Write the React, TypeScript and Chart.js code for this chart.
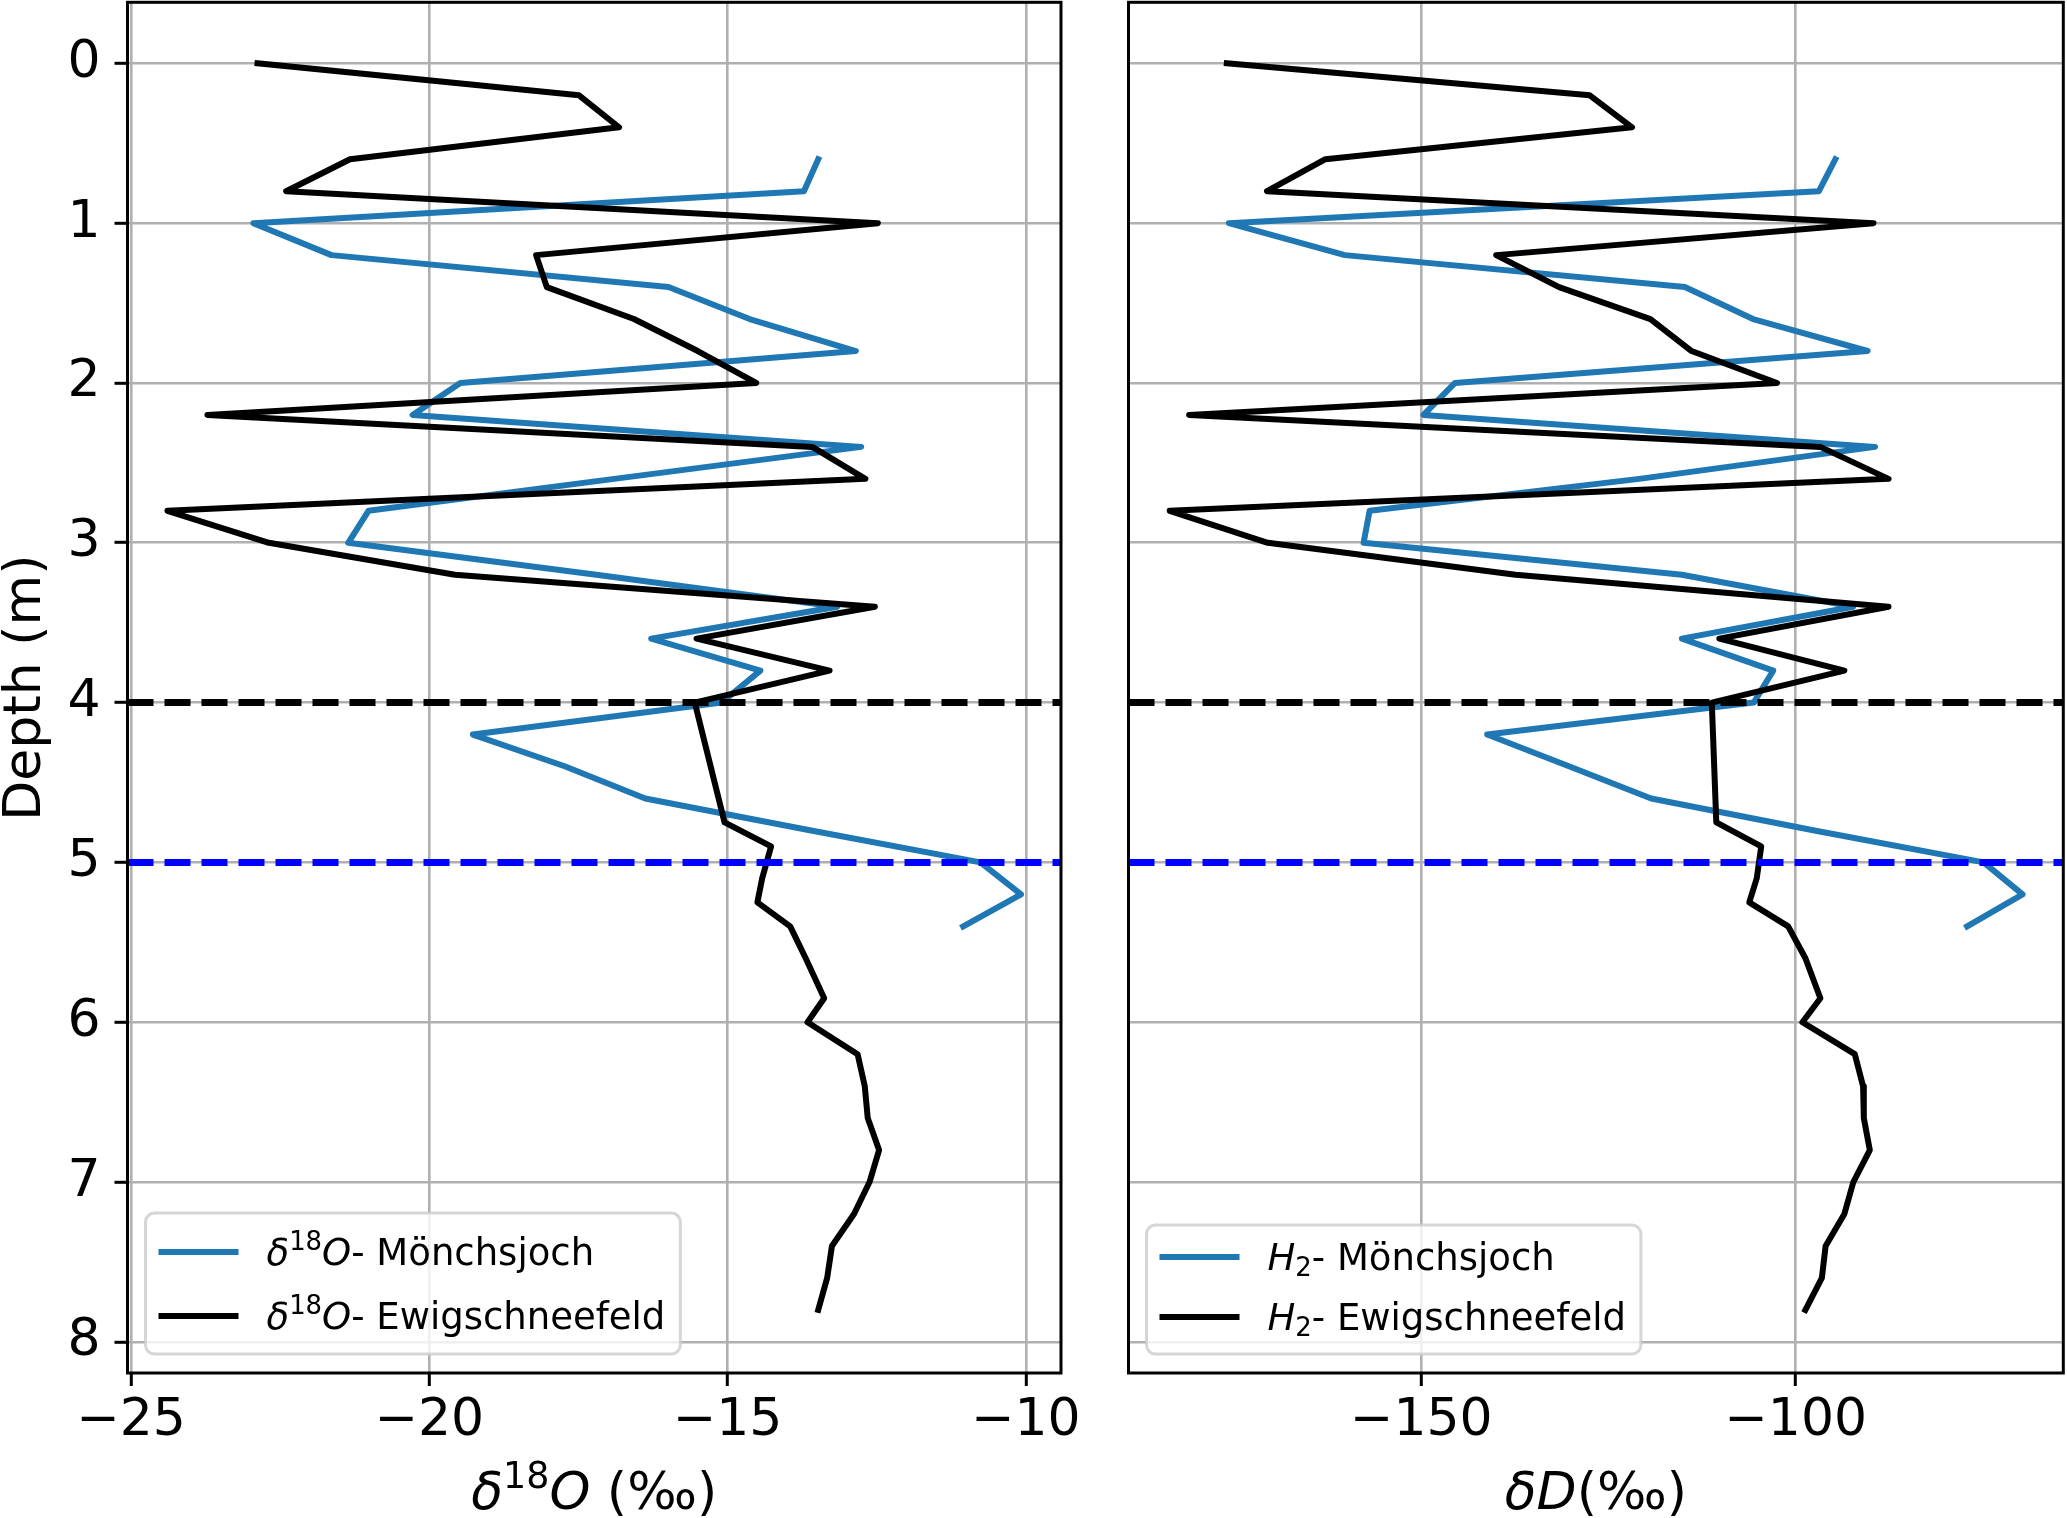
import { useEffect, useRef } from "react"
import { Chart, registerables } from "chart.js"

Chart.register(...registerables)

// depth (m) of the samples
const depthMonch = [0.6, 0.8, 1.0, 1.2, 1.4, 1.6, 1.8, 2.0, 2.2, 2.4, 2.6, 2.8, 3.0, 3.2, 3.4, 3.6, 3.8, 4.0, 4.2, 4.4, 4.6, 4.8, 5.0, 5.2, 5.4]
const depthEwig = [
  0, 0.2, 0.4, 0.6, 0.8, 1.0, 1.2, 1.4, 1.6, 1.8, 2.0, 2.2, 2.4, 2.6, 2.8, 3.0, 3.2, 3.4, 3.6, 3.8, 4.0,
  4.75, 4.9, 5.1, 5.25, 5.4, 5.6, 5.85, 6.0, 6.2, 6.4, 6.6, 6.8, 7.0, 7.2, 7.4, 7.6, 7.8,
]

// delta 18O (permil)
const d18oMonch = [
  -13.48, -13.72, -22.95, -21.64, -15.99, -14.63, -12.85, -19.48, -20.28, -12.76, -16.9, -21.02, -21.36,
  -17.2, -13.16, -16.28, -14.45, -15.1, -19.27, -17.72, -16.38, -13.6, -10.76, -10.08, -11.05,
]
const d18oEwig = [
  -22.88, -17.49, -16.82, -21.33, -22.4, -12.48, -18.21, -18.03, -16.57, -15.5, -14.52, -23.72, -13.58,
  -12.69, -24.39, -22.69, -19.57, -12.53, -15.52, -13.29, -15.55,
  -15.05, -14.27, -14.42, -14.5, -13.95, -13.69, -13.38, -13.66, -12.82, -12.7, -12.65, -12.46, -12.62,
  -12.88, -13.25, -13.33, -13.48,
]

// delta D (permil)
const ddMonch = [
  -94.7, -96.9, -175.7, -160.2, -114.8, -105.7, -90.4, -145.5, -149.7, -89.4, -120.9, -156.9, -157.7,
  -115.2, -92.3, -115.2, -103.0, -105.6, -141.2, -130.2, -119.3, -97.5, -74.9, -69.7, -77.1,
]
const ddEwig = [
  -175.97, -127.5, -121.85, -162.8, -170.6, -89.6, -140.0, -131.6, -119.4, -113.9, -102.5, -181.0, -96.7,
  -87.6, -183.6, -170.5, -137.4, -87.6, -110.2, -93.5, -111.2,
  -110.6, -104.6, -105.2, -106.2, -101.0, -98.7, -96.7, -99.1, -92.1, -91.0, -90.9, -90.1, -92.3,
  -93.5, -96.0, -96.5, -98.7,
]

const depthTicks = [0, 1, 2, 3, 4, 5, 6, 7, 8]
const d18oTicks = [-25, -20, -15, -10]
const ddTicks = [-150, -100]

// dashed reference depths
const refDepths = [4, 5]
const refColors = ["#000000", "#0000ff"]

const H = 1518
const FAMILY = "'DejaVu Sans', sans-serif"
const GRID = "#b0b0b0"
const BLUE = "#1f77b4"
const LW = 6

type Run = { t: string; it?: boolean; sup?: boolean; sub?: boolean }

interface Panel {
  left: number
  width: number
  padRight: number
  yWidth: number
  showY: boolean
  xMin: number
  xMax: number
  xTicks: number[]
  monch: number[]
  ewig: number[]
  xTitle: Run[]
  legend: Run[][]
  legendH: number
  rowOffsets: number[]
}

const runFont = (r: Run, size: number) =>
  `${r.it ? "italic " : ""}${r.sup || r.sub ? size * 0.7 : size}px ${FAMILY}`

function runsWidth(ctx: CanvasRenderingContext2D, runs: Run[], size: number) {
  let w = 0
  for (const r of runs) {
    ctx.font = runFont(r, size)
    w += ctx.measureText(r.t).width
  }
  return w
}

function drawRuns(ctx: CanvasRenderingContext2D, runs: Run[], x: number, y: number, size: number) {
  let cx = x
  for (const r of runs) {
    ctx.font = runFont(r, size)
    const dy = r.sup ? -size * 0.4 : r.sub ? size * 0.15 : 0
    ctx.fillText(r.t, cx, y + dy)
    cx += ctx.measureText(r.t).width
  }
}

function makeDecor(panel: Panel) {
  return {
    id: "decor",
    afterDatasetsDraw(chart: any) {
      const { ctx, chartArea: a } = chart
      ctx.save()
      refDepths.forEach((d, i) => {
        const y = chart.scales.y.getPixelForValue(d)
        ctx.beginPath()
        ctx.setLineDash([26, 11])
        ctx.lineWidth = 7
        ctx.strokeStyle = refColors[i]
        ctx.moveTo(a.left, y)
        ctx.lineTo(a.right, y)
        ctx.stroke()
      })
      ctx.restore()
    },
    afterDraw(chart: any) {
      const { ctx, chartArea: a } = chart
      ctx.save()
      ctx.setLineDash([])

      // spines
      ctx.strokeStyle = "#000"
      ctx.lineWidth = 3
      ctx.strokeRect(a.left, a.top, a.right - a.left, a.bottom - a.top)

      // legend
      const fs = 37
      const colors = [BLUE, "#000"]
      const textW = Math.max(...panel.legend.map((r) => runsWidth(ctx, r, fs)))
      const bx = a.left + 18
      const bb = a.bottom - 19
      const bw = 121 + textW + 15
      const bh = panel.legendH
      const by = bb - bh
      const rad = 9
      ctx.beginPath()
      ctx.moveTo(bx + rad, by)
      ctx.lineTo(bx + bw - rad, by)
      ctx.arcTo(bx + bw, by, bx + bw, by + rad, rad)
      ctx.lineTo(bx + bw, bb - rad)
      ctx.arcTo(bx + bw, bb, bx + bw - rad, bb, rad)
      ctx.lineTo(bx + rad, bb)
      ctx.arcTo(bx, bb, bx, bb - rad, rad)
      ctx.lineTo(bx, by + rad)
      ctx.arcTo(bx, by, bx + rad, by, rad)
      ctx.closePath()
      ctx.fillStyle = "rgba(255,255,255,0.8)"
      ctx.fill()
      ctx.strokeStyle = "rgba(204,204,204,0.8)"
      ctx.lineWidth = 3
      ctx.stroke()

      panel.legend.forEach((runs, i) => {
        const cy = bb - panel.rowOffsets[i]
        ctx.beginPath()
        ctx.strokeStyle = colors[i]
        ctx.lineWidth = LW
        ctx.moveTo(bx + 13, cy)
        ctx.lineTo(bx + 93, cy)
        ctx.stroke()
        ctx.fillStyle = "#000"
        ctx.textBaseline = "alphabetic"
        ctx.textAlign = "left"
        drawRuns(ctx, runs, bx + 121, cy + 13, fs)
      })

      // x title
      const ts = 52
      ctx.fillStyle = "#000"
      const tw = runsWidth(ctx, panel.xTitle, ts)
      drawRuns(ctx, panel.xTitle, (a.left + a.right) / 2 - tw / 2, 1509, ts)

      // y title
      if (panel.showY) {
        ctx.translate(21, (a.top + a.bottom) / 2)
        ctx.rotate(-Math.PI / 2)
        ctx.font = `${ts}px ${FAMILY}`
        ctx.textAlign = "center"
        ctx.fillText("Depth (m)", 0, 19)
      }
      ctx.restore()
    },
  }
}

const fmt = (v: any) => (Number(v) < 0 ? "\u2212" + Math.abs(Number(v)) : String(v))

const toPoints = (xs: number[], ys: number[]) => xs.map((x, i) => ({ x, y: ys[i] }))

function PanelChart({ panel }: { panel: Panel }) {
  const ref = useRef<HTMLCanvasElement>(null)

  useEffect(() => {
    if (!ref.current) return
    const tickFont = { family: FAMILY, size: 52, lineHeight: 1.2 }
    const chart = new Chart(ref.current, {
      type: "scatter",
      data: {
        datasets: [
          {
            label: "Mönchsjoch",
            data: toPoints(panel.monch, depthMonch),
            borderColor: BLUE,
            borderWidth: LW,
            showLine: true,
            pointRadius: 0,
            borderJoinStyle: "round",
            borderCapStyle: "square",
            order: 1,
          },
          {
            label: "Ewigschneefeld",
            data: toPoints(panel.ewig, depthEwig),
            borderColor: "#000000",
            borderWidth: LW,
            showLine: true,
            pointRadius: 0,
            borderJoinStyle: "round",
            borderCapStyle: "square",
            order: 0,
          },
        ],
      } as any,
      options: {
        animation: false,
        responsive: false,
        events: [],
        layout: { padding: { left: 0, right: panel.padRight, top: 2.3, bottom: 0 } },
        plugins: { legend: { display: false }, tooltip: { enabled: false } },
        scales: {
          x: {
            type: "linear",
            min: panel.xMin,
            max: panel.xMax,
            afterBuildTicks: (s: any) => {
              s.ticks = panel.xTicks.map((v) => ({ value: v }))
            },
            afterFit: (s: any) => {
              s.height = 145
              s.paddingLeft = 0
              s.paddingRight = 0
            },
            border: { display: false },
            grid: { color: GRID, lineWidth: 2.6, tickLength: 13, tickColor: "#000", tickWidth: 3 },
            ticks: { font: tickFont, color: "#000", padding: 4, maxRotation: 0, autoSkip: false, callback: fmt },
          },
          y: {
            type: "linear",
            reverse: true,
            min: -0.382,
            max: 8.195,
            afterBuildTicks: (s: any) => {
              s.ticks = depthTicks.map((v) => ({ value: v }))
            },
            afterFit: (s: any) => {
              s.width = panel.yWidth
              s.paddingTop = 0
              s.paddingBottom = 0
            },
            border: { display: false },
            grid: {
              color: GRID,
              lineWidth: 2.6,
              drawTicks: panel.showY,
              tickLength: 13,
              tickColor: "#000",
              tickWidth: 3,
            },
            ticks: { display: panel.showY, font: tickFont, color: "#000", padding: 14, autoSkip: false, callback: fmt },
          },
        },
      } as any,
      plugins: [makeDecor(panel)],
    })
    return () => chart.destroy()
  }, [panel])

  return (
    <canvas
      ref={ref}
      width={panel.width}
      height={H}
      style={{ position: "absolute", left: panel.left, top: 0, width: panel.width, height: H }}
    />
  )
}

const leftPanel: Panel = {
  left: 0,
  width: 1095,
  padRight: 34,
  yWidth: 127.5,
  showY: true,
  xMin: -25.06,
  xMax: -9.41,
  xTicks: d18oTicks,
  monch: d18oMonch,
  ewig: d18oEwig,
  xTitle: [{ t: "δ", it: true }, { t: "18", sup: true }, { t: "O", it: true }, { t: " (‰)" }],
  legend: [
    [{ t: "δ", it: true }, { t: "18", sup: true }, { t: "O", it: true }, { t: "- Mönchsjoch" }],
    [{ t: "δ", it: true }, { t: "18", sup: true }, { t: "O", it: true }, { t: "- Ewigschneefeld" }],
  ],
  legendH: 141,
  rowOffsets: [102, 38],
}

const rightPanel: Panel = {
  left: 1095,
  width: 972,
  padRight: 3.7,
  yWidth: 33.5,
  showY: false,
  xMin: -189.1,
  xMax: -64.26,
  xTicks: ddTicks,
  monch: ddMonch,
  ewig: ddEwig,
  xTitle: [{ t: "δ", it: true }, { t: "D", it: true }, { t: "(‰)" }],
  legend: [
    [{ t: "H", it: true }, { t: "2", sub: true }, { t: "- Mönchsjoch" }],
    [{ t: "H", it: true }, { t: "2", sub: true }, { t: "- Ewigschneefeld" }],
  ],
  legendH: 129,
  rowOffsets: [97, 37],
}

export default function App() {
  return (
    <div style={{ position: "absolute", left: 0, top: 0, width: 2067, height: H, background: "#fff" }}>
      <PanelChart panel={leftPanel} />
      <PanelChart panel={rightPanel} />
    </div>
  )
}
